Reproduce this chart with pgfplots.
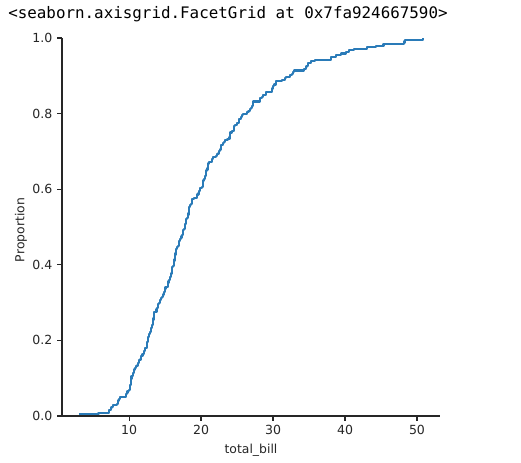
\documentclass[border=0pt]{standalone}
\usepackage{fontspec}
\setmainfont{DejaVu Sans}
\newfontfamily\monofont{DejaVu Sans Mono}
\usepackage{pgfplots}
\pgfplotsset{compat=1.18}
\usepackage{pgfplotstable}
\definecolor{sbblue}{HTML}{2A7BB8}
\definecolor{ink}{gray}{0.15}

% sorted total_bill values (tips data) and cumulative count n (of 244)
\pgfplotstableread{
x n
3.07 1
5.75 2
7.25 3
7.25 4
7.51 5
7.56 6
7.74 7
8.35 8
8.51 9
8.52 10
8.58 11
8.77 12
9.55 13
9.60 14
9.68 15
9.78 16
9.94 17
10.07 18
10.07 19
10.09 20
10.27 21
10.29 22
10.33 23
10.33 24
10.34 25
10.34 26
10.51 27
10.59 28
10.63 29
10.65 30
10.77 31
11.02 32
11.17 33
11.24 34
11.35 35
11.38 36
11.59 37
11.61 38
11.69 39
11.87 40
12.02 41
12.03 42
12.16 43
12.26 44
12.43 45
12.46 46
12.48 47
12.54 48
12.60 49
12.66 50
12.69 51
12.74 52
12.76 53
12.90 54
13.00 55
13.00 56
13.03 57
13.13 58
13.16 59
13.27 60
13.28 61
13.37 62
13.39 63
13.42 64
13.42 65
13.42 66
13.51 67
13.81 68
13.81 69
13.94 70
14.00 71
14.07 72
14.15 73
14.26 74
14.31 75
14.48 76
14.52 77
14.73 78
14.78 79
14.83 80
15.01 81
15.04 82
15.06 83
15.36 84
15.38 85
15.42 86
15.48 87
15.53 88
15.69 89
15.69 90
15.77 91
15.81 92
15.95 93
15.98 94
15.98 95
16.00 96
16.04 97
16.21 98
16.27 99
16.29 100
16.31 101
16.32 102
16.40 103
16.43 104
16.45 105
16.47 106
16.49 107
16.58 108
16.66 109
16.82 110
16.93 111
16.97 112
16.99 113
17.07 114
17.26 115
17.29 116
17.31 117
17.46 118
17.47 119
17.51 120
17.59 121
17.78 122
17.81 123
17.82 124
17.89 125
17.92 126
17.92 127
18.04 128
18.15 129
18.24 130
18.26 131
18.28 132
18.29 133
18.29 134
18.35 135
18.43 136
18.64 137
18.69 138
18.71 139
18.78 140
19.08 141
19.44 142
19.49 143
19.65 144
19.77 145
19.81 146
19.82 147
20.08 148
20.23 149
20.27 150
20.29 151
20.29 152
20.45 153
20.49 154
20.53 155
20.65 156
20.69 157
20.69 158
20.76 159
20.90 160
20.92 161
21.01 162
21.01 163
21.16 164
21.50 165
21.58 166
21.70 167
22.12 168
22.23 169
22.42 170
22.49 171
22.67 172
22.75 173
22.76 174
22.82 175
23.10 176
23.17 177
23.33 178
23.68 179
23.95 180
24.01 181
24.06 182
24.08 183
24.27 184
24.52 185
24.55 186
24.59 187
24.71 188
25.00 189
25.21 190
25.28 191
25.29 192
25.56 193
25.71 194
25.89 195
26.41 196
26.59 197
26.86 198
26.88 199
27.05 200
27.18 201
27.20 202
27.28 203
28.15 204
28.17 205
28.44 206
28.55 207
28.97 208
29.03 209
29.80 210
29.85 211
29.93 212
30.06 213
30.14 214
30.40 215
30.46 216
31.27 217
31.71 218
31.85 219
32.40 220
32.68 221
32.83 222
32.90 223
34.30 224
34.63 225
34.65 226
34.81 227
34.83 228
35.26 229
35.83 230
38.01 231
38.07 232
38.73 233
39.42 234
40.17 235
40.55 236
41.19 237
43.11 238
44.30 239
45.35 240
48.17 241
48.27 242
48.33 243
50.81 244
}\ecdf

\begin{document}
\begin{tikzpicture}
\path[use as bounding box] (-46.5pt,-35.25pt) rectangle (344.25pt,312pt);
\node[anchor=base west, inner sep=0pt, font=\monofont\fontsize{11.9}{14}\selectfont] at (-40.5pt,297.75pt) {<seaborn.axisgrid.FacetGrid at 0x7fa924667590>};
\begin{axis}[
  scale only axis, width=283.5pt, height=283.5pt,
  xmin=0.683, xmax=53.197, ymin=0, ymax=244,
  axis x line*=bottom, axis y line*=left,
  axis line style={ink, line width=0.83pt},
  xtick={10,20,30,40,50},
  ytick={0,48.8,97.6,146.4,195.2,244},
  yticklabels={0.0,0.2,0.4,0.6,0.8,1.0},
  tick align=outside, major tick length=3.7pt,
  tick style={ink, line width=0.83pt},
  /pgf/number format/assume math mode=true,
  every tick label/.append style={font=\fontsize{9.4}{11}\selectfont, text=ink},
  xlabel={total\_bill}, ylabel={Proportion},
  label style={font=\fontsize{9.3}{11}\selectfont, text=ink},
  xlabel style={at={(axis description cs:0.5,-0.0899)}, anchor=center},
  ylabel style={at={(axis description cs:-0.1085,0.492)}, anchor=center},
]
\addplot[const plot, sbblue, line width=1.56pt, line join=round, no markers] table[x=x,y=n]{\ecdf};
\end{axis}
\end{tikzpicture}
\end{document}
